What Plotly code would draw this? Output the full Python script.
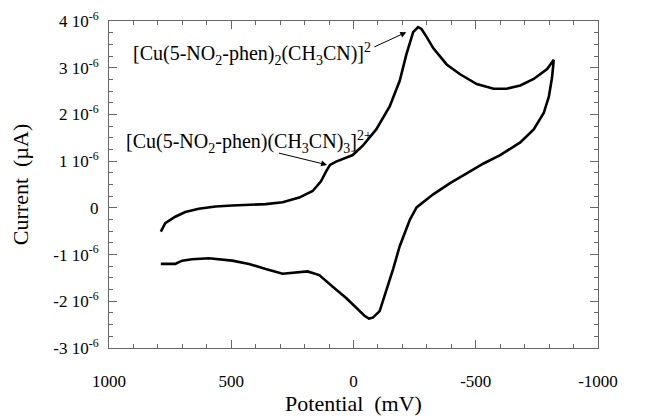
import plotly.graph_objects as go

# Potential (mV) and current (units of 1e-6), in scan order
potential = [788, 770, 729, 688, 633, 564, 496, 427, 359, 290, 222, 167, 133, 112, 96, 71, 3,
             -38, -93, -148, -189, -216, -244, -264, -278, -299, -326, -381, -436, -504, -573,
             -627, -682, -737, -792, -819,
             -812, -799, -778, -737, -682, -600, -532, -463, -395, -326, -285, -258, -230, -189,
             -162, -134, -107, -79, -63, -45, -11, 30, 85, 140, 188, 222, 290, 359, 427, 496,
             592, 660, 701, 729, 788]
current_e6 = [-0.51, -0.33, -0.19, -0.09, -0.02, 0.03, 0.05, 0.07, 0.08, 0.12, 0.22, 0.36, 0.57,
              0.78, 0.92, 0.99, 1.13, 1.33, 1.68, 2.17, 2.72, 3.28, 3.76, 3.87, 3.83, 3.66, 3.42,
              3.07, 2.86, 2.65, 2.55, 2.55, 2.62, 2.76, 2.97, 3.17,
              2.79, 2.38, 2.03, 1.68, 1.40, 1.13, 0.95, 0.74, 0.53, 0.29, 0.12, 0.01, -0.26,
              -0.82, -1.31, -1.79, -2.21, -2.35, -2.37, -2.31, -2.14, -1.93, -1.69, -1.44, -1.36,
              -1.38, -1.41, -1.31, -1.20, -1.13, -1.08, -1.10, -1.13, -1.20, -1.20]
current = [v * 1e-6 for v in current_e6]

x_tickvals = [1000, 500, 0, -500, -1000]
x_ticktext = ["1000", "500", "0", "-500", "-1000"]
y_tickvals = [4e-6, 3e-6, 2e-6, 1e-6, 0, -1e-6, -2e-6, -3e-6]
y_ticktext = ["4 10<sup>-6</sup>", "3 10<sup>-6</sup>", "2 10<sup>-6</sup>", "1 10<sup>-6</sup>",
              "0", "-1 10<sup>-6</sup>", "-2 10<sup>-6</sup>", "-3 10<sup>-6</sup>"]

font_family = "Liberation Serif, DejaVu Serif, serif"

fig = go.Figure()
fig.add_trace(go.Scatter(x=potential, y=current, mode="lines",
                         line=dict(color="black", width=2.6), showlegend=False,
                         hoverinfo="skip"))

fig.update_layout(
    width=651, height=419,
    margin=dict(l=109, r=53, t=21, b=71),
    paper_bgcolor="white", plot_bgcolor="white",
    font=dict(family=font_family, color="black", size=17),
)
fig.update_xaxes(
    range=[1000, -1000], tickvals=x_tickvals, ticktext=x_ticktext,
    ticks="inside", ticklen=8, tickcolor="#666", tickwidth=1,
    minor=dict(dtick=100, ticks="inside", ticklen=4, tickcolor="#666", showgrid=False),
    showline=True, linecolor="#666", linewidth=1, mirror="ticks",
    showgrid=False, zeroline=False, automargin=False,
    ticklabelstandoff=18,
    title=dict(text="Potential  (mV)", font=dict(size=22, family=font_family), standoff=4),
    tickfont=dict(size=17, family=font_family),
)
fig.update_yaxes(
    range=[-3e-6, 4e-6], tickvals=y_tickvals, ticktext=y_ticktext,
    ticks="inside", ticklen=8, tickcolor="#666", tickwidth=1,
    minor=dict(dtick=0.25e-6, ticks="inside", ticklen=4, tickcolor="#666", showgrid=False),
    showline=True, linecolor="#666", linewidth=1, mirror="ticks",
    showgrid=False, zeroline=False, automargin=False,
    ticklabelstandoff=6,
    title=dict(text="Current  (µA)", font=dict(size=22, family=font_family), standoff=18),
    tickfont=dict(size=17, family=font_family),
)

ann_font = dict(size=20, family=font_family, color="black")
fig.add_annotation(x=0.045, y=3.3e-6, xref="paper", yref="y", xanchor="left", yanchor="middle",
                   text="[Cu(5-NO<sub>2</sub>-phen)<sub>2</sub>(CH<sub>3</sub>CN)]<sup>2</sup>",
                   showarrow=False, font=ann_font)
fig.add_annotation(x=0.03, y=1.4e-6, xref="paper", yref="y", xanchor="left", yanchor="middle",
                   text="[Cu(5-NO<sub>2</sub>-phen)(CH<sub>3</sub>CN)<sub>3</sub>]<sup>2+</sup>",
                   showarrow=False, font=ann_font)
fig.add_annotation(x=-216, y=3.76e-6, ax=-79, ay=3.43e-6, axref="x", ayref="y",
                   xref="x", yref="y", text="", showarrow=True,
                   arrowhead=2, arrowsize=1.2, arrowwidth=1, arrowcolor="black")
fig.add_annotation(x=108, y=0.92e-6, ax=311, ay=1.18e-6, axref="x", ayref="y",
                   xref="x", yref="y", text="", showarrow=True,
                   arrowhead=2, arrowsize=1.2, arrowwidth=1, arrowcolor="black")

fig.write_html("out.html", config={"displayModeBar": False},
               post_script="document.body.style.margin='0';")
